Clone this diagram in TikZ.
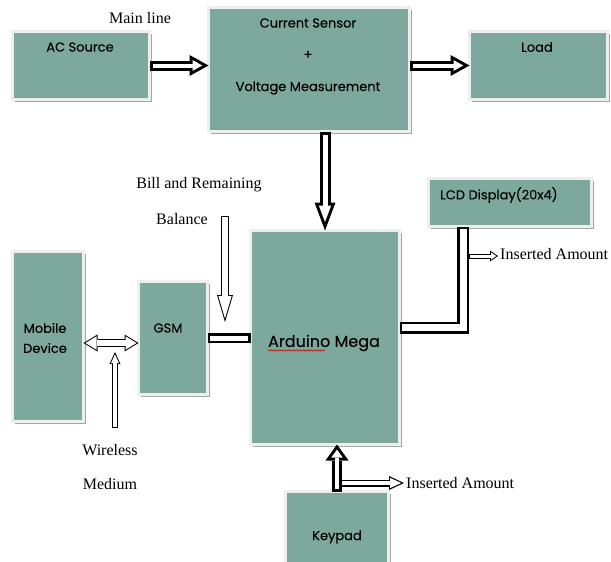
\documentclass[tikz,border=0pt]{standalone}
\usepackage{fontspec}
\setmainfont{Liberation Serif}
\newfontfamily\boxfont[FakeBold=0.15]{Poppins}
\usetikzlibrary{arrows.meta,shadows,decorations.pathmorphing}
\definecolor{boxteal}{RGB}{124,168,157}
\definecolor{boxedge}{RGB}{238,238,238}
\definecolor{boxshade}{RGB}{165,165,165}

% hollow arrow: border, shaft width, head length, head width, from, to
\newcommand{\hollowarrow}[6]{%
	\pgfmathsetmacro\halfang{atan(#4/2/#3)}%
	\pgfmathsetmacro\tipback{#1/sin(\halfang)}%
	\pgfmathsetmacro\inlen{#3-#1-\tipback}%
	\pgfmathsetmacro\inwid{2*\inlen*tan(\halfang)}%
	\pgfmathsetmacro\inshaft{#2-2*#1}%
	\draw[line width=#2pt,-{Triangle[length=#3pt,width=#4pt,line width=0pt]}] #5 -- #6;
	\draw[white,line width=\inshaft pt,shorten <=#1pt,shorten >=\tipback pt,-{Triangle[length=\inlen pt,width=\inwid pt,line width=0pt]}] #5 -- #6;
}
\newcommand{\hollowdarrow}[6]{%
	\pgfmathsetmacro\halfang{atan(#4/2/#3)}%
	\pgfmathsetmacro\tipback{#1/sin(\halfang)}%
	\pgfmathsetmacro\inlen{#3-#1-\tipback}%
	\pgfmathsetmacro\inwid{2*\inlen*tan(\halfang)}%
	\pgfmathsetmacro\inshaft{#2-2*#1}%
	\draw[line width=#2pt,{Triangle[length=#3pt,width=#4pt,line width=0pt]}-{Triangle[length=#3pt,width=#4pt,line width=0pt]}] #5 -- #6;
	\draw[white,line width=\inshaft pt,shorten <=\tipback pt,shorten >=\tipback pt,{Triangle[length=\inlen pt,width=\inwid pt,line width=0pt]}-{Triangle[length=\inlen pt,width=\inwid pt,line width=0pt]}] #5 -- #6;
}

\tikzset{
	block/.style={draw=boxedge,line width=3pt,fill=boxteal,anchor=north west,inner sep=0,outer sep=0,
		drop shadow={shadow xshift=2pt,shadow yshift=-2.5pt,fill=boxshade,opacity=1}},
	blocktext/.style={font=\boxfont\fontsize{13}{20}\selectfont,text=black,inner sep=2pt},
	note/.style={font=\fontsize{16}{19}\selectfont,inner sep=2pt},
	barout/.style={line width=#1pt,line join=miter},
	barin/.style={white,line width=#1pt,line join=miter},
}

\begin{document}
\begin{tikzpicture}[x=1pt,y=-1pt]
	\useasboundingbox (0,0) rectangle (611,562);
	\node[block,minimum width=137pt,minimum height=68pt] (ac) at (12.5,31.5) {};
	\node[block,minimum width=201pt,minimum height=124pt] (sensor) at (208.5,7.5) {};
	\node[block,minimum width=138pt,minimum height=68pt] (load) at (469.5,31.5) {};
	\node[block,minimum width=163pt,minimum height=48pt] (lcd) at (428.5,178.5) {};
	\node[block,minimum width=71pt,minimum height=170pt] (mobile) at (12.5,251.5) {};
	\node[block,minimum width=69pt,minimum height=113pt] (gsm) at (138.5,281.5) {};
	\node[block,minimum width=149pt,minimum height=214pt] (ard) at (250.5,230.5) {};
	\node[block,minimum width=103pt,minimum height=90pt] (keypad) at (285.5,491.5) {};

	% texts in the boxes
	\node[blocktext] (aclabel) at (80,47) {AC Source};
	\node[blocktext] (sensorlabel) at (308,23) {Current Sensor};
	\node[blocktext] (pluslabel) at (308,55) {+};
	\node[blocktext] (voltlabel) at (308,88) {Voltage Measurement};
	\node[blocktext] (loadlabel) at (537,47) {Load};
	\node[blocktext,anchor=west] (lcdlabel) at (438,195) {LCD Display(20x4)};
	\node[blocktext,align=center] (mobilelabel) at (45,338) {Mobile\\Device};
	\node[blocktext] (gsmlabel) at (168,328) {GSM};
	\node[blocktext,font=\boxfont\fontsize{16}{19}\selectfont] (ardlabel) at (324,343) {Arduino Mega};
	\node[blocktext] (keypadlabel) at (337,537) {Keypad};
	\draw[red!80!black,line width=0.5pt,decorate,decoration={snake,amplitude=0.7pt,segment length=2.5pt}]
		([xshift=2pt,yshift=-3.5pt]ardlabel.base west) -- ++(57,0);

	% other texts
	\node[note] (mainline) at (140,18) {Main line};
	\node[note] (bill) at (199,185) {Bill and Remaining};
	\node[note] (balance) at (182,219) {Balance};
	\node[note] (wireless) at (110,450) {Wireless};
	\node[note] (medium) at (110,484) {Medium};
	\node[note,anchor=west] (lcdamt) at (498,254) {Inserted Amount};
	\node[note,anchor=west] (kpamt) at (404,483) {Inserted Amount};
	\coordinate (lcdtap) at (469,256);
	\coordinate (kptap) at (341,483);
	\coordinate (billtop) at (225,216);
	\coordinate (billtip) at (225,322);
	\coordinate (wiretail) at (115,428);
	\coordinate (wiretip) at (115,352);

	% connectors
	\hollowarrow{3}{10}{19}{21}{(ac.east)}{(ac.east -| sensor.west)}
	\hollowarrow{3}{10}{19}{21}{(sensor.east |- load.west)}{(load.west)}
	\hollowarrow{3}{11}{28}{21}{(sensor.south -| ard.north)}{(ard.north)}
	\hollowarrow{3}{10}{16}{23}{(keypad.north)}{(keypad.north |- ard.south)}
	\draw[barout=12] ([yshift=10pt]ard.east) -| ([xshift=34.5pt]lcd.south west);
	\draw[barin=7,shorten <=2.5pt,shorten >=2.5pt] ([yshift=10pt]ard.east) -| ([xshift=34.5pt]lcd.south west);
	\draw[barout=10] (gsm.east) -- (gsm.east -| ard.west);
	\draw[barin=5,shorten <=2.5pt,shorten >=2.5pt] (gsm.east) -- (gsm.east -| ard.west);
	\hollowdarrow{1}{8}{14}{17}{([yshift=-6.5pt]mobile.east)}{([yshift=-6.5pt]mobile.east -| gsm.west)}
	\hollowarrow{1}{5}{8}{11}{(lcdtap)}{(lcdtap -| lcdamt.west)}
	\hollowarrow{1.2}{7}{15}{14}{(kptap)}{(kpamt.west)}
	\hollowarrow{1}{8}{27}{16}{(billtop)}{(billtip)}
	\hollowarrow{1}{6}{12}{11}{(wiretail)}{(wiretip)}
\end{tikzpicture}
\end{document}
